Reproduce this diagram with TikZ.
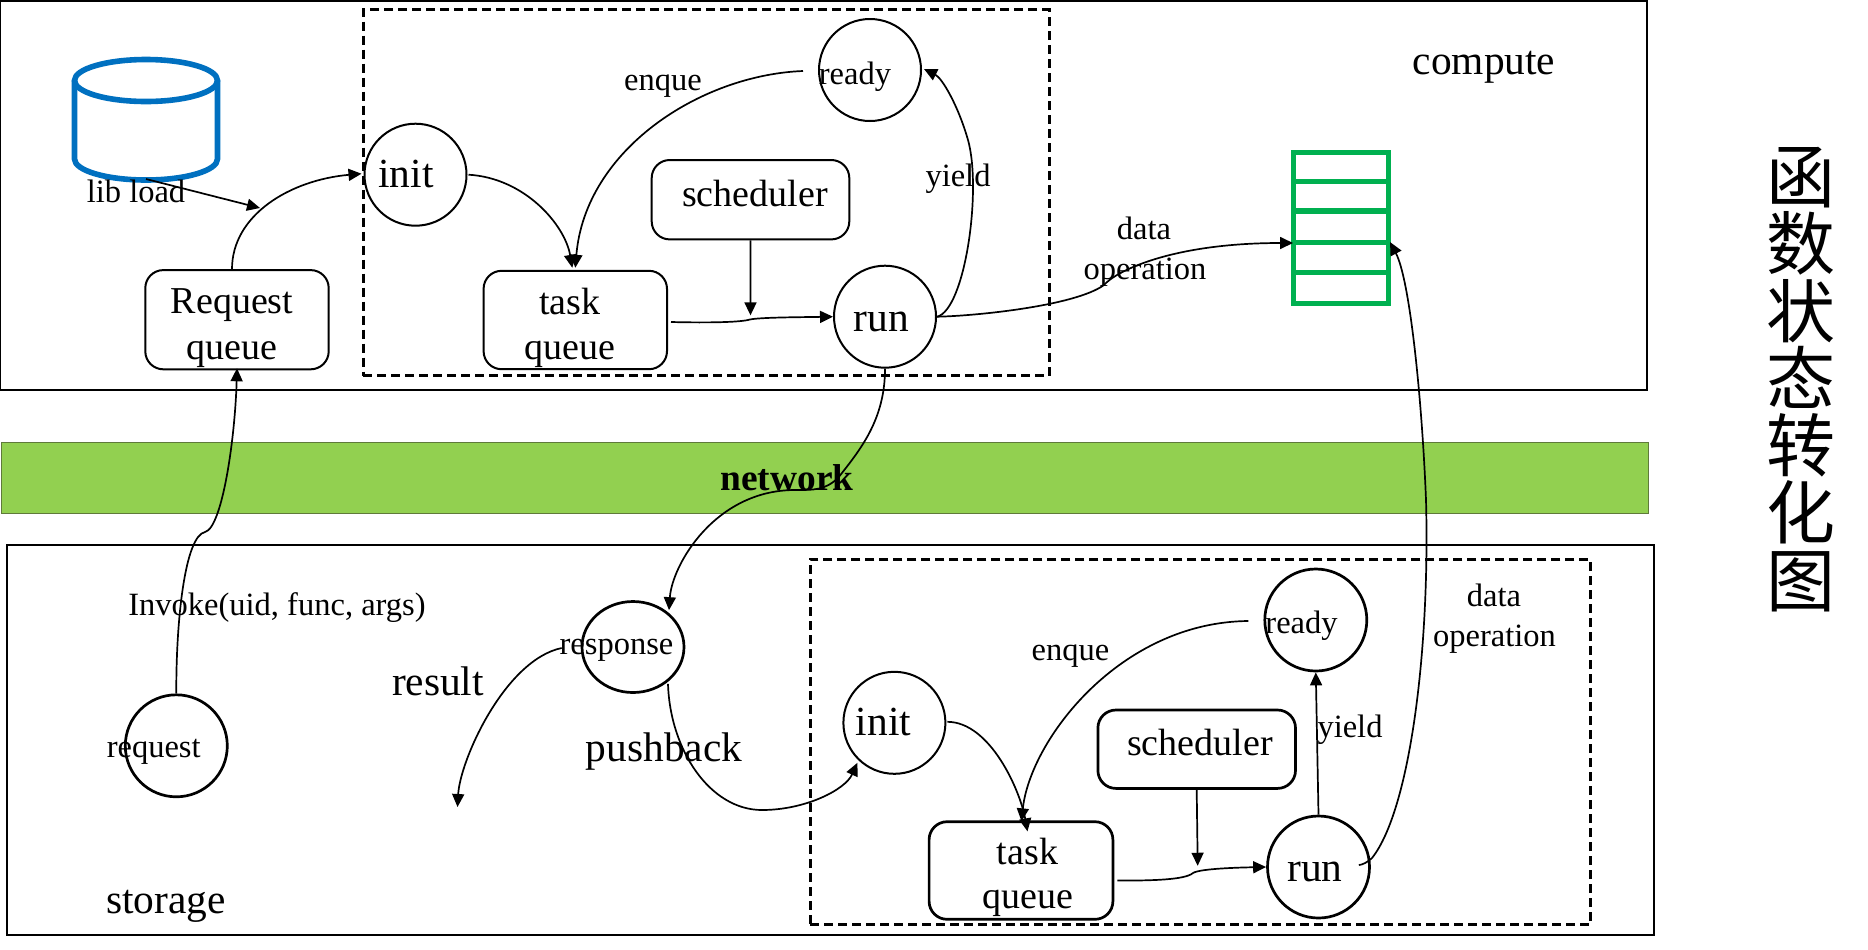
\documentclass[tikz,border=0pt]{standalone}
\usepackage{fontspec}
\setmainfont{Liberation Serif}
\newfontfamily\cjk{Noto Sans CJK SC}
\usetikzlibrary{arrows.meta,calc,shapes.geometric}
\definecolor{bandgreen}{HTML}{92D050}
\definecolor{bandedge}{HTML}{5F7A3A}
\definecolor{tablegreen}{HTML}{00B050}
\definecolor{cylblue}{HTML}{0070C0}
\tikzset{
  panel/.style={draw=black,line width=1pt},
  dashbox/.style={draw=black,line width=1.6pt,dash pattern=on 4.5pt off 2.5pt},
  stateball/.style={draw=black,line width=1pt,circle,minimum size=51pt,inner sep=0pt},
  roundbox/.style={draw=black,line width=1pt,rectangle,rounded corners=9pt,inner sep=0pt},
  heavy/.style={line width=1.35pt},
  link/.style={draw=black,line width=0.85pt,-{Triangle[length=6.5pt,width=6pt]}},
  tiny/.style={inner sep=0pt,font=\fontsize{16.25pt}{18pt}\selectfont},
  mid/.style={inner sep=0pt,font=\fontsize{19pt}{22pt}\selectfont},
  big/.style={inner sep=0pt,font=\fontsize{20.7pt}{24pt}\selectfont},
  tablebar/.style={draw=tablegreen,line width=2.6pt},
}
\begin{document}
\begin{tikzpicture}[x=0.5pt,y=-0.5pt]
\useasboundingbox (0,0) rectangle (1868,949);
% panels
\node[panel,anchor=north west,minimum width=823.5pt,minimum height=194.5pt,inner sep=0pt] (computebox) at (-1,-0.5) {};
\node[draw=bandedge,line width=0.7pt,fill=bandgreen,anchor=north west,minimum width=823.5pt,minimum height=35.5pt,inner sep=0pt] (band) at (1,442) {};
\node[panel,anchor=north west,minimum width=823.5pt,minimum height=195pt,inner sep=0pt] (storagebox) at (6,543.5) {};
\node[font=\fontsize{18.7pt}{22pt}\selectfont\bfseries,inner sep=0pt] (nettext) at (787,478) {network};
% dashed frames
\node[dashbox,anchor=north west,minimum width=343pt,minimum height=183pt,inner sep=0pt] (frameA) at (361.6,8) {};
\node[dashbox,anchor=north west,minimum width=390.2pt,minimum height=182.7pt,inner sep=0pt] (frameB) at (808.6,557.6) {};
% cylinder
\draw[cylblue,line width=2.8pt] (74.5,80.5) -- (74.5,159) arc[start angle=180,end angle=360,x radius=71.5,y radius=-21] -- (217.5,80.5);
\draw[cylblue,line width=2.8pt] (146,80.5) ellipse[x radius=71.5,y radius=21];
\coordinate (cylfoot) at (146,179);
\coordinate (libtip) at (260,208);
\node[tiny] (liblabel) at (136,191) {lib load};
% upper group
\node[roundbox,minimum width=91.7pt,minimum height=49.6pt] (reqq) at (237,319.7) {};
\node[mid] (reqa) at (232,305.5) {Request};
\node[mid] (reqb) at (232,354) {queue};
\node[stateball] (initA) at (415.5,174.7) {};
\node[big] (initAt) at (406,174) {init};
\node[stateball] (readyA) at (870,70) {};
\node[tiny] (readyAt) at (855,77) {ready};
\node[tiny] (enqueA) at (663,86) {enque};
\node[roundbox,minimum width=98.8pt,minimum height=39.7pt] (schedA) at (750.5,199.7) {};
\node[mid] (schedAt) at (755,193) {scheduler};
\node[roundbox,minimum width=91.7pt,minimum height=49.2pt] (taskA) at (575.3,320) {};
\node[mid] (taskAa) at (570,301) {task};
\node[mid] (taskAb) at (570,354) {queue};
\node[stateball] (runA) at (885,316.7) {};
\node[big] (runAt) at (881.5,322) {run};
\node[tiny] (yieldA) at (958,179) {yield};
\node[tiny] (dataA) at (1144,228) {data};
\node[tiny] (opA) at (1145,272) {operation};
\node[big] (computet) at (1484,67) {compute};
% green table
\node[tablebar,anchor=north west,minimum width=47.6pt,minimum height=75.6pt,inner sep=0pt] (tbl) at (1291,149.6) {};
\draw[tablebar] (1291,181.3) -- (1387,181.3) (1291,211) -- (1387,211) (1291,242.5) -- (1387,242.5) (1291,272.8) -- (1387,272.8);
\coordinate (tblL) at (1293,243);
\coordinate (tblR) at (1390,242);
% lower group
\node[stateball,heavy] (reqc) at (176.3,745.8) {};
\node[tiny] (reqct) at (153.7,752) {request};
\node[tiny] (invoke) at (277,607.5) {Invoke(uid, func, args)};
\node[draw=black,heavy,ellipse,minimum width=51pt,minimum height=45.5pt,inner sep=0pt] (resp) at (633,647) {};
\node[tiny] (respt) at (616.5,650) {response};
\node[big] (resultt) at (438,681) {result};
\node[big] (pusht) at (664,752) {pushback};
\node[big] (storaget) at (166,906) {storage};
\coordinate (resultend) at (457.5,807);
\node[stateball] (initB) at (894.4,722.8) {};
\node[big] (initBt) at (883.5,722) {init};
\node[stateball,heavy] (readyB) at (1315.8,620) {};
\node[tiny] (readyBt) at (1301.5,626) {ready};
\node[tiny] (enqueB) at (1070.4,656) {enque};
\node[roundbox,heavy,minimum width=98.8pt,minimum height=39.2pt] (schedB) at (1196.7,749.2) {};
\node[mid] (schedBt) at (1200,742) {scheduler};
\node[roundbox,heavy,minimum width=91.9pt,minimum height=48.8pt] (taskB) at (1021,870.5) {};
\node[mid] (taskBa) at (1027.5,851) {task};
\node[mid] (taskBb) at (1027.5,903) {queue};
\node[stateball,heavy] (runB) at (1318.5,867) {};
\node[big] (runBt) at (1315,872) {run};
\node[tiny] (yieldB) at (1350,730) {yield};
\node[tiny] (dataB) at (1494,595) {data};
\node[tiny] (opB) at (1494.5,639) {operation};
% side title
\node[font=\cjk\fontsize{34.5pt}{33.65pt}\selectfont,align=center,inner sep=0pt] (title) at (1800.5,379.5) {函\\数\\状\\态\\转\\化\\图};
% connectors
\draw[link] (cylfoot) -- (libtip);
\draw[link] (reqq.north -| reqa) .. controls (232,215) and (290,180) .. ($(initA.west)+(-2,-1)$);
\draw[link] ($(initA.east)+(1,0)$) .. controls (525,178) and (565,225) .. ($(taskA.north)+(-3,-2)$);
\draw[link] ($(readyA.west)+(-15,1)$) .. controls (700,75) and (585,150) .. ($(taskA.north)+(0,-2)$);
\draw[link] (schedA.south) -- ($(taskA.east)!0.5!(runA.west)+(0,-3)$);
\draw[link] ($(taskA.east)+(3,2)$) .. controls (700,322.7) and (735,322.7) .. (748,320) .. controls (755,317.5) and (790,317.3) .. (runA.west);
\draw[link] (runA.east) .. controls (965,310) and (982,190) .. (968,140) .. controls (958,105) and (942,78) .. ($(readyA.east)+(2,-1)$);
\draw[link] (runA.east) .. controls (975,316) and (1075,306) .. (1104,285) .. controls (1115,272) and (1170,243) .. (tblL);
\draw[link] (reqc.north) .. controls (176,620) and (185,536) .. (205,532) .. controls (222,528) and (235,440) .. ($(reqq.south)+(0,-2)$);
\draw[link] (runA.south) .. controls (885,420) and (860,450) .. (838,478) .. controls (825,490) and (815,490) .. (795,490) .. controls (715,490) and (672,565) .. ($(resp.north)+(36,10)$);
\draw[link] ($(resp.west)+(-19,1)$) .. controls (505,660) and (460,760) .. (resultend);
\draw[link] ($(resp.south)+(35,-10)$) .. controls (670,750) and (710,810) .. (762,810) .. controls (805,810) and (845,790) .. ($(initB.south)+(-37,-12)$);
\draw[link] ($(initB.east)+(1,-1)$) .. controls (990,722) and (1020,790) .. ($(taskB.north)+(6.5,11)$);
\draw[link] ($(readyB.west)+(-15,1)$) .. controls (1120,622) and (1030,740) .. ($(taskB.north)+(0.5,1)$);
\draw[link] (schedB.south) -- ($(schedB.south)+(1,76)$);
\draw[link] ($(taskB.east)+(3,10)$) .. controls (1150,880.7) and (1185,880) .. (1193,873) .. controls (1200,868.5) and (1240,867.5) .. (runB.west);
\draw[link] (runB.north) -- (readyB.south);
\draw[link] ($(runB.east)+(-12,-2)$) .. controls (1362,865) and (1368,862) .. (1372,858) .. controls (1410,810) and (1430,650) .. (1426,500) .. controls (1422,400) and (1410,280) .. (tblR);
\end{tikzpicture}
\end{document}
